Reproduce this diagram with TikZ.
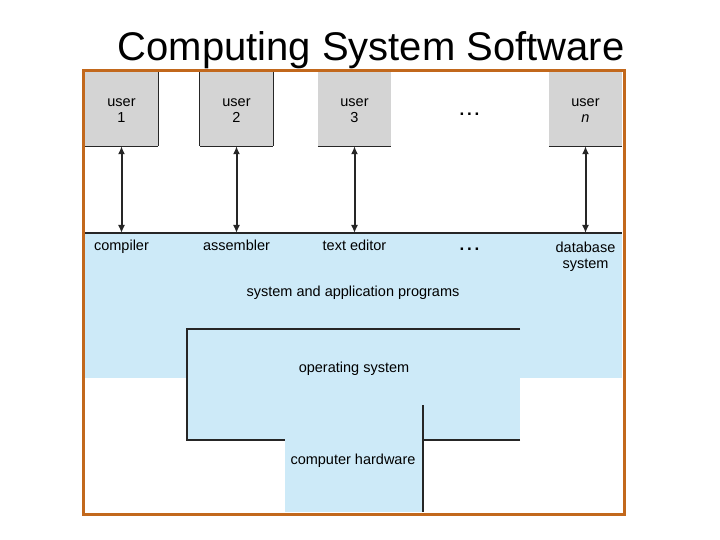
\documentclass[tikz,border=0pt]{standalone}
\usepackage{fontspec}
\setmainfont{Liberation Sans}
\usetikzlibrary{arrows.meta}
\definecolor{frameorange}{RGB}{194,104,28}
\definecolor{progblue}{RGB}{205,234,248}
\definecolor{usergray}{RGB}{212,212,212}
\tikzset{
  userbox/.style={fill=usergray, minimum width=73pt, minimum height=75pt, inner sep=0pt},
  lbl/.style={anchor=base, align=center, font=\fontsize{14.5}{16}\selectfont},
  ulbl/.style={align=center, inner sep=0pt, font=\fontsize{14.5}{16}\selectfont},
  dots/.style={anchor=base, font=\fontsize{17}{17}\selectfont\bfseries},
  userlink/.style={draw=black!85, line width=2pt, {Latex[length=8pt,width=7pt]}-{Latex[length=8pt,width=7pt]}},
  edge/.style={line width=1.1pt, black!85}
}
\begin{document}
\begin{tikzpicture}[x=1pt,y=-1pt]
  \useasboundingbox (0,0) rectangle (720,540);
  \node[anchor=base, font=\fontsize{40}{44}\selectfont] (title) at (371,61) {Computing System Software};
  % layers
  \fill[progblue] (85,233) rectangle (622,378);
  \fill[progblue] (187,329) rectangle (520,440);
  \fill[progblue] (285,440) rectangle (423,512);
  \draw[edge] (85,233) -- (622,233);
  \draw[edge] (520,329) -- (187,329) -- (187,440) -- (285,440);
  \draw[edge] (520,440) -- (423,440);
  \draw[edge] (423,405) -- (423,512);
  % users
  \foreach \name/\x/\txt in {u1/121.5/1, u2/236.5/2, u3/354.5/3, un/585.5/\textit{n}} {
    \node[userbox] (\name) at (\x,108.5) {};
    \node[ulbl] (\name-t) at (\x,110.5) {user\\\txt};
    \draw[edge] (\name.south west) -- (\name.south east);
    \coordinate (\name-p) at (\x,233);
    \draw[userlink] (\name.south) -- (\name-p);
  }
  \draw[edge] (u1.north east) -- (u1.south east);
  \draw[edge] (u2.north west) -- (u2.south west) (u2.north east) -- (u2.south east);
  \node[dots] (dotsu) at (469.5,116) {.\,.\,.};
  % programs
  \node[lbl] (comp) at (121.5,251) {compiler};
  \node[lbl] (asm) at (236.5,251) {assembler};
  \node[lbl] (edit) at (354.5,251) {text editor};
  \node[dots] (dotsp) at (469.5,250) {.\,.\,.};
  \node[lbl, anchor=north] (db) at (585.5,238) {database\\system};
  \node[lbl] (sap) at (353,296) {system and application programs};
  \node[lbl] (os) at (354,372) {operating system};
  \node[lbl] (hw) at (353,464) {computer hardware};
  \draw[frameorange, line width=3pt] (83,71) rectangle (624,514);
\end{tikzpicture}
\end{document}
